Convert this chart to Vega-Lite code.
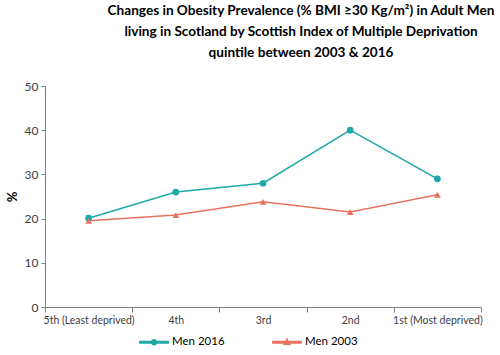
{
  "$schema": "https://vega.github.io/schema/vega-lite/v6.json",
  "width": 436,
  "height": 221,
  "autosize": {"type": "none"},
  "padding": {"left": 45, "top": 86, "right": 19, "bottom": 48},
  "background": "white",
  "title": {
    "text": ["Changes in Obesity Prevalence (% BMI ≥30 Kg/m²) in Adult Men", "living in Scotland by Scottish Index of Multiple Deprivation", "quintile between 2003 & 2016"],
    "font": "Lato",
    "fontSize": 13.6,
    "fontWeight": "bold",
    "color": "#000000",
    "lineHeight": 21,
    "anchor": "middle",
    "dx": 38,
    "offset": 20
  },
  "data": {
    "values": [
      {"quintile": "5th (Least deprived)", "series": "Men 2016", "value": 20.1},
      {"quintile": "4th", "series": "Men 2016", "value": 26},
      {"quintile": "3rd", "series": "Men 2016", "value": 28},
      {"quintile": "2nd", "series": "Men 2016", "value": 40},
      {"quintile": "1st (Most deprived)", "series": "Men 2016", "value": 29},
      {"quintile": "5th (Least deprived)", "series": "Men 2003", "value": 19.5},
      {"quintile": "4th", "series": "Men 2003", "value": 20.8},
      {"quintile": "3rd", "series": "Men 2003", "value": 23.8},
      {"quintile": "2nd", "series": "Men 2003", "value": 21.5},
      {"quintile": "1st (Most deprived)", "series": "Men 2003", "value": 25.4}
    ]
  },
  "encoding": {
    "x": {
      "field": "quintile",
      "type": "nominal",
      "sort": null,
      "scale": {"type": "band", "paddingInner": 0, "paddingOuter": 0},
      "axis": {
        "title": null,
        "labelAngle": 0,
        "tickBand": "extent",
        "labelFont": "Lato",
        "labelFontSize": 10.5,
        "labelColor": "#404040",
        "labelPadding": 3,
        "domainColor": "#808080",
        "tickColor": "#808080",
        "tickSize": 5
      }
    },
    "y": {
      "field": "value",
      "type": "quantitative",
      "scale": {"domain": [0, 50], "nice": false},
      "axis": {
        "title": "%",
        "titleFont": "Lato",
        "titleFontSize": 13,
        "titleFontWeight": "bold",
        "titleColor": "#000000",
        "titlePadding": 5,
        "values": [0, 10, 20, 30, 40, 50],
        "grid": false,
        "labelFont": "Lato",
        "labelFontSize": 12,
        "labelColor": "#404040",
        "domainColor": "#808080",
        "tickColor": "#808080",
        "tickSize": 4,
        "labelPadding": 3
      }
    },
    "color": {
      "field": "series",
      "type": "nominal",
      "sort": ["Men 2016", "Men 2003"],
      "scale": {"domain": ["Men 2016", "Men 2003"], "range": ["#1fa8a8", "#e9725f"]},
      "legend": {
        "title": null,
        "orient": "none",
        "legendX": 101,
        "legendY": 248,
        "direction": "horizontal",
        "labelFont": "Lato",
        "labelFontSize": 11.5,
        "labelColor": "#000000",
        "labelOffset": 10,
        "columnPadding": 44,
        "symbolSize": 200,
        "symbolOpacity": 1
      }
    }
  },
  "layer": [
    {
      "mark": {"type": "line", "strokeWidth": 1.5},
      "encoding": {"detail": {"field": "series"}}
    },
    {
      "transform": [{"filter": "datum.series === 'Men 2016'"}],
      "mark": {"type": "point", "filled": true, "opacity": 1, "size": 45, "shape": "circle"}
    },
    {
      "transform": [{"filter": "datum.series === 'Men 2003'"}],
      "mark": {"type": "point", "filled": true, "opacity": 1, "size": 45, "shape": "triangle-up"}
    },
    {
      "mark": {"type": "point", "filled": true, "opacity": 0, "size": 200},
      "encoding": {
        "shape": {
          "field": "series",
          "type": "nominal",
          "sort": ["Men 2016", "Men 2003"],
          "scale": {"domain": ["Men 2016", "Men 2003"], "range": ["M-2,-0.1H2V0.1H-2ZM0.36,0A0.36,0.36,0,1,1,-0.36,0A0.36,0.36,0,1,1,0.36,0Z", "M-2,-0.1H2V0.1H-2ZM0,-0.42L0.42,0.3L-0.42,0.3Z"]},
          "legend": {
            "title": null,
            "orient": "none",
            "legendX": 101,
            "legendY": 248,
            "direction": "horizontal",
            "labelOffset": 10,
            "columnPadding": 44,
            "symbolOpacity": 1
          }
        }
      }
    }
  ],
  "config": {"view": {"stroke": null}}
}
